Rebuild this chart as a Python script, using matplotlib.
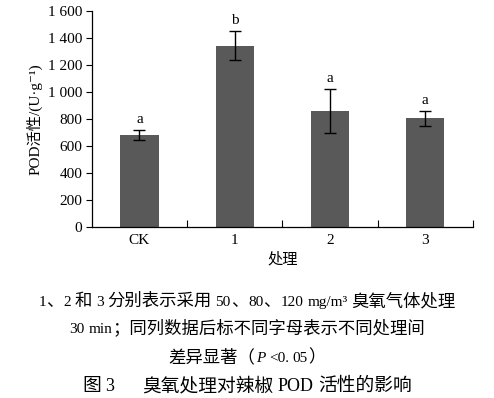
import matplotlib
matplotlib.use("Agg")
import matplotlib.pyplot as plt
import numpy as np

categories = ["CK", "1", "2", "3"]
values = [680, 1340, 860, 805]
errors = [37, 107, 162, 55]
letters = ["a", "b", "a", "a"]
yticks = [0, 200, 400, 600, 800, 1000, 1200, 1400, 1600]
ytick_labels = ["0", "200", "400", "600", "800", "1 000", "1 200", "1 400", "1 600"]

fam = ["Liberation Serif", "Noto Sans CJK SC", "DejaVu Serif"]
plt.rcParams['font.family'] = fam

fig = plt.figure(figsize=(4.94, 3.98), dpi=100)
ax = fig.add_axes([0.186, 0.4296, 0.771, 0.5435])
x = np.arange(len(categories))
ax.bar(x, values, width=0.4, color="#595959", zorder=2)
ax.errorbar(x, values, yerr=errors, fmt="none", ecolor="black", elinewidth=1.0,
            capsize=4, capthick=1.0, zorder=3)
for xi, v, e, l in zip(x, values, errors, letters):
    ax.text(xi, v + e + 30, l, ha="center", va="bottom", fontsize=11)

ax.set_xlim(-0.5, 3.5)
ax.set_ylim(0, 1600)
ax.set_yticks(yticks)
ax.set_yticklabels(ytick_labels)
ax.set_xticks(x)
ax.set_xticklabels(categories)
ax.tick_params(axis="x", length=0, labelsize=11, pad=5)
ax.set_xticks([0.5, 1.5, 2.5, 3.5], minor=True)
ax.tick_params(axis="x", which="minor", direction="in", length=5, width=0.8)
ax.tick_params(axis="y", direction="out", length=4, width=0.8, labelsize=11, pad=3)
for s in ["top", "right"]:
    ax.spines[s].set_visible(False)
for s in ["left", "bottom"]:
    ax.spines[s].set_linewidth(0.9)
ax.set_ylabel("POD活性/(U·g⁻¹)", fontsize=11, labelpad=4)
ax.set_xlabel("处理", fontsize=11, labelpad=4)

renderer = fig.canvas.get_renderer()
figw = fig.get_figwidth() * fig.dpi


def is_cjk(c):
    return ord(c) >= 0x2E80


def draw_line(ypix, segments, lat_size, cjk_size, gap_scale=0.25):
    """segments: list of (text, style). Splits into CJK / Latin runs, centred."""
    items = []
    for s, st in segments:
        cur = ""
        kind = None
        for c in s:
            k = "sp" if c == " " else ("cjk" if is_cjk(c) else "lat")
            if kind is not None and k != kind:
                items.append((kind, cur, st))
                cur = ""
            kind = k
            cur += c
        if cur:
            items.append((kind, cur, st))
    objs = []
    widths = []
    for kind, s, st in items:
        if kind == "sp":
            objs.append(None)
            widths.append(len(s) * lat_size * gap_scale * fig.dpi / 72)
            continue
        size = cjk_size if kind == "cjk" else lat_size
        t = fig.text(0, 1 - ypix / 398, s, ha="left", va="baseline",
                     fontsize=size, style=st)
        objs.append(t)
        widths.append(t.get_window_extent(renderer).width)
    xpos = (figw - sum(widths)) / 2
    for t, w in zip(objs, widths):
        if t is not None:
            t.set_x(xpos / figw)
        xpos += w


draw_line(306, [("1、2 和 3 分别表示采用 50、80、120 mg/m³ 臭氧气体处理", "normal")], 11, 12.5)
draw_line(333, [("30 min；同列数据后标不同字母表示不同处理间", "normal")], 11, 12.5)
draw_line(362, [("差异显著（", "normal"), ("P", "italic"), (" <0. 05）", "normal")], 11, 12.5)
draw_line(391, [("图 3", "normal"), ("      ", "normal"), ("臭氧处理对辣椒 POD 活性的影响", "normal")],
          13, 13.5)

fig.savefig("out.png", dpi=100)
